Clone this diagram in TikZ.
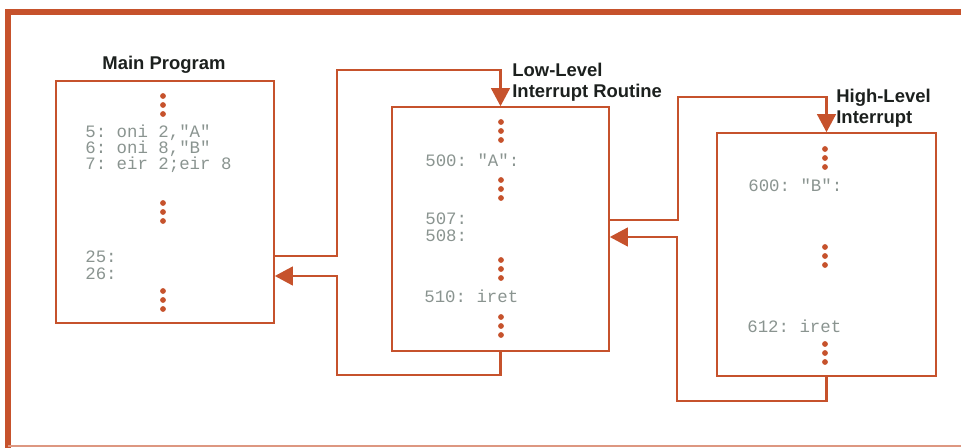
\documentclass[tikz,border=0pt]{standalone}
\usepackage{fontspec}
\setmainfont{Liberation Sans}
\setsansfont{Liberation Sans}
\setmonofont{Liberation Mono}
\usetikzlibrary{arrows.meta,calc}
\definecolor{hporange}{RGB}{198,82,44}
\definecolor{codegray}{RGB}{138,148,144}
\definecolor{titleink}{RGB}{28,32,30}
% three dots going down from (x,y)
\newcommand{\dotcol}[2]{\foreach \k in {0,1,2}{\fill[hporange] (#1,#2+9*\k) circle[radius=0.058cm];}}

\begin{document}
\begin{tikzpicture}[x=0.02cm,y=-0.02cm,
    prog/.style={draw=hporange,line width=0.9pt,inner sep=0pt},
    link/.style={draw=hporange,line width=1.5pt},
    tip/.style={-{Triangle[length=3.6mm,width=3.7mm]}},
    code/.style={anchor=mid west,inner sep=0pt,text=codegray,font=\fontsize{9.9}{11}\ttfamily},
    title/.style={inner sep=0pt,text=titleink,font=\fontsize{10.5}{11.6}\sffamily\bfseries,align=left}]
    \useasboundingbox (0,0) rectangle (961,448);
    % frame
    \draw[hporange,line width=3.5pt] (5,12) -- (961,12);
    \draw[hporange,line width=3pt] (8,12) -- (8,448);
    \draw[hporange!60,line width=1.2pt] (8,446) -- (961,446);

    % the three programs
    \node[prog,minimum width=4.36cm,minimum height=4.84cm] (main) at (165,202) {};
    \node[prog,minimum width=4.34cm,minimum height=4.88cm] (low) at (500.5,229) {};
    \node[prog,minimum width=4.38cm,minimum height=4.86cm] (high) at (826.5,254.5) {};

    \node[title,anchor=base] (maint) at (164,70) {Main Program};
    \node[title,anchor=north west] (lowt) at (512,63) {Low-Level\\Interrupt Routine};
    \node[title,anchor=north west] (hight) at (836,89) {High-Level\\Interrupt};

    % main program
    \dotcol{163}{96}
    \node[code] (m5) at (85,133) {5: oni 2,"A"};
    \node[code] (m6) at (85,149) {6: oni 8,"B"};
    \node[code] (m7) at (85,165) {7: eir 2;eir 8};
    \dotcol{163}{203}
    \node[code] (m25) at (85,258) {25:};
    \node[code] (m26) at (85,275) {26:};
    \dotcol{163}{291}

    % low-level routine
    \dotcol{501}{122}
    \node[code] (l500) at (425,162) {500: "A":};
    \dotcol{501}{180}
    \node[code] (l507) at (425,220) {507:};
    \node[code] (l508) at (425,237) {508:};
    \dotcol{501}{260}
    \node[code] (l510) at (424,298) {510: iret};
    \dotcol{501}{317}

    % high-level routine
    \dotcol{825}{149}
    \node[code] (h600) at (748,187) {600: "B":};
    \dotcol{825}{247}
    \node[code] (h612) at (747,328) {612: iret};
    \dotcol{825}{344}

    % calls and returns
    \draw[link,tip] ($(main.east)+(0,54)$) -| (337,70) -| (low.north);
    \draw[link,tip] (low.south) |- (337,375) |- ($(main.east)+(0,74)$);
    \draw[link,tip] ($(low.east)+(0,-9)$) -| (678,97) -| (high.north);
    \draw[link,tip] (high.south) |- (677,401) |- ($(low.east)+(0,8)$);
\end{tikzpicture}
\end{document}
